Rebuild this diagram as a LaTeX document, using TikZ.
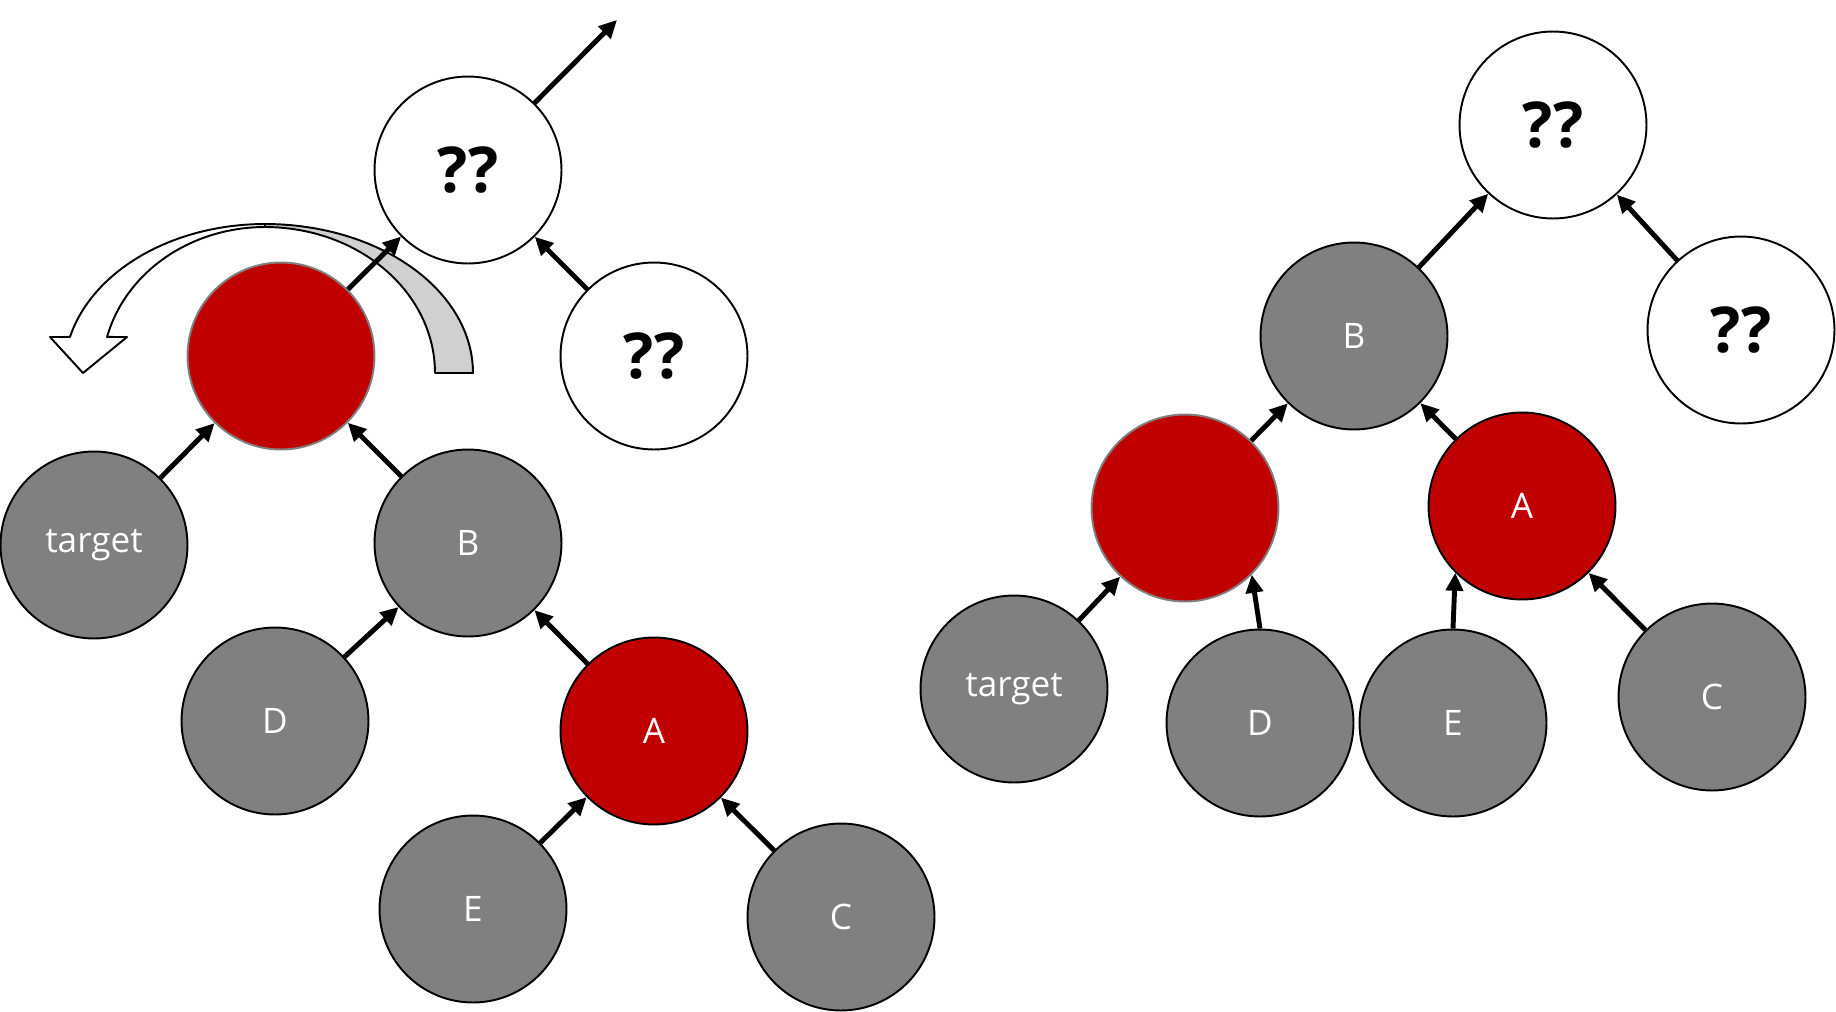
\documentclass[tikz,border=0pt]{standalone}
\usepackage{fontspec}
\setmainfont{Open Sans}
\usetikzlibrary{arrows.meta}
\definecolor{TreeRed}{HTML}{C00000}
\definecolor{TreeGray}{HTML}{808080}
\definecolor{TreeRim}{HTML}{7F7F7F}
\definecolor{TreeBand}{HTML}{D0D0D0}
\tikzset{
  tree/node/.style={
    circle, draw=black, line width=1.1pt, minimum size=3.74cm, inner sep=0pt,
    font=\fontsize{20}{24}\selectfont, text=white
  },
  tree/gray/.style={tree/node, fill=TreeGray},
  tree/red/.style={tree/node, fill=TreeRed},
  tree/hole/.style={tree/red, draw=TreeRim},
  tree/open/.style={tree/node, fill=white, text=black,
    font=\fontsize{36}{42}\selectfont\bfseries},
  tree/edge/.style={
    -{Triangle[length=0.36cm,width=0.34cm]}, line width=2.8pt, draw=black
  },
  tree/band/.style={draw=black, line width=1.1pt, line join=round}
}
\begin{document}
\begin{tikzpicture}[x=0.02cm, y=-0.02cm]
  \useasboundingbox (0,0) rectangle (1836,1011);
  % rotation arrow
  \draw[tree/band, fill=TreeBand]
    plot[domain=0:-90, samples=40] ({265+208*cos(\x)},{373+149*sin(\x)})
    -- plot[domain=-90:0, samples=40] ({265+170*cos(\x)},{373+146*sin(\x)}) -- cycle;
  \draw[tree/band, fill=white]
    plot[domain=-90:-166, samples=40] ({265+201*cos(\x)},{373+149*sin(\x)})
    -- (50,337) -- (83,373) -- (127,337)
    -- plot[domain=-165.7:-90, samples=40] ({265+163*cos(\x)},{373+146*sin(\x)}) -- cycle;
  % before
  \node[tree/open] (lq) at (468,170) {??};
  \node[tree/open] (lqr) at (654,356) {??};
  \node[tree/hole] (lx) at (281,356) {};
  \node[tree/gray] (lt) at (94,545) {target};
  \node[tree/gray] (lb) at (468,543) {B};
  \node[tree/gray] (ld) at (275,721) {D};
  \node[tree/red] (la) at (654,731) {A};
  \node[tree/gray] (le) at (473,909) {E};
  \node[tree/gray] (lc) at (841,917) {C};
  \coordinate (lup) at (617,20);
  \draw[tree/edge] (lq) -- (lup);
  \draw[tree/edge] (lqr) -- (lq);
  \draw[tree/edge] (lx) -- (lq);
  \draw[tree/edge] (lt) -- (lx);
  \draw[tree/edge] (lb) -- (lx);
  \draw[tree/edge] (ld) -- (lb);
  \draw[tree/edge] (la) -- (lb);
  \draw[tree/edge] (le) -- (la);
  \draw[tree/edge] (lc) -- (la);
  % after
  \node[tree/open] (rq) at (1553,125) {??};
  \node[tree/open] (rqr) at (1741,330) {??};
  \node[tree/gray] (rb) at (1354,336) {B};
  \node[tree/hole] (rx) at (1185,508) {};
  \node[tree/red] (ra) at (1522,506) {A};
  \node[tree/gray] (rt) at (1014,689) {target};
  \node[tree/gray] (rd) at (1260,723) {D};
  \node[tree/gray] (re) at (1453,723) {E};
  \node[tree/gray] (rc) at (1712,697) {C};
  \draw[tree/edge] (rb) -- (rq);
  \draw[tree/edge] (rqr) -- (rq);
  \draw[tree/edge] (rx) -- (rb);
  \draw[tree/edge] (ra) -- (rb);
  \draw[tree/edge] (rt) -- (rx);
  \draw[tree/edge] (rd.north) -- (rx.-45);
  \draw[tree/edge] (re.north) -- (ra.-135);
  \draw[tree/edge] (rc) -- (ra);
\end{tikzpicture}
\end{document}
